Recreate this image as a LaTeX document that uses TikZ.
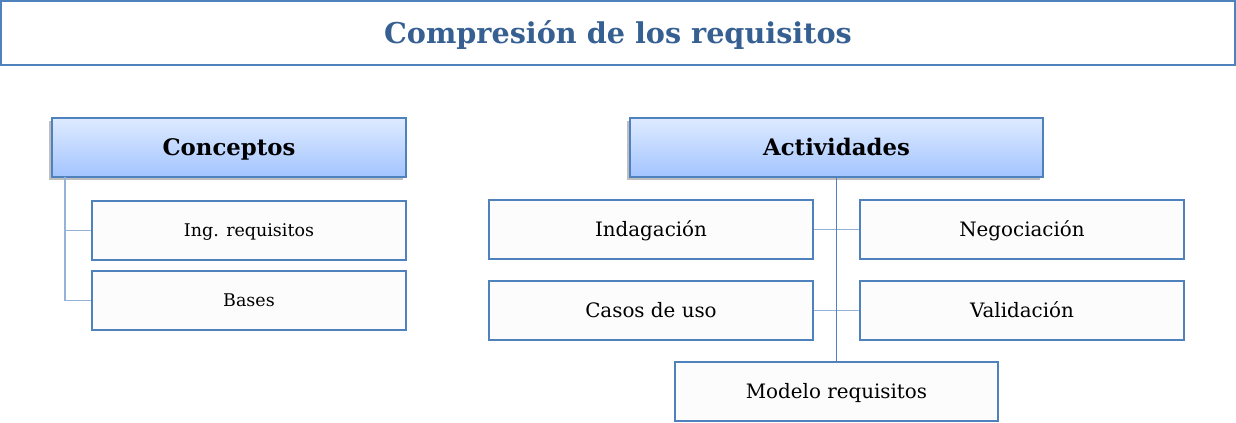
\documentclass[tikz,border=0pt]{standalone}
\usepackage{fontspec}
\setmainfont{DejaVu Serif}
\usetikzlibrary{shadows}
\definecolor{bord}{RGB}{79,129,189}
\definecolor{lite}{RGB}{149,179,215}
\definecolor{ttl}{RGB}{54,96,146}
\definecolor{gtop}{RGB}{222,235,255}
\definecolor{gbot}{RGB}{163,196,255}
\definecolor{boxfill}{RGB}{252,252,252}
\tikzset{
  base/.style={inner sep=0pt, text depth=0pt},
  box/.style={base, draw=bord, line width=1.3pt, fill=boxfill, font=\fontsize{14.9}{17}\selectfont, text height=10.9pt},
  smallbox/.style={box, font=\fontsize{13.1}{15}\selectfont, text height=9.5pt},
  head/.style={base, draw=bord, line width=1.3pt, top color=gtop, bottom color=gbot,
    font=\bfseries\fontsize{17.1}{20}\selectfont, text height=12.5pt,
    drop shadow={shadow xshift=-2pt, shadow yshift=-2pt, opacity=0.25, fill=black}},
  title/.style={base, draw=bord, line width=1.3pt, fill=white, text=ttl,
    font=\bfseries\fontsize{21.5}{24}\selectfont, text height=15.7pt},
  dark/.style={draw=bord, line width=1.3pt},
  light/.style={draw=lite, line width=1.3pt},
}
\newcommand{\bx}[7]{%
  \node[#2, minimum width={(#5-#3)*0.75pt}, minimum height={(#6-#4)*0.75pt}]
    (#1) at ({(#3+#5)/2},{(#4+#6)/2}) {#7};}
\begin{document}
\begin{tikzpicture}[x=0.75pt,y=-0.75pt]
\useasboundingbox (0,0) rectangle (1236,423);
\bx{t}{title}{1}{1}{1235}{65}{Compresión de los requisitos}
\bx{con}{head}{52}{118}{406}{177}{Conceptos}
\bx{ing}{smallbox}{92}{201}{406}{260}{Ing. requisitos}
\bx{bas}{smallbox}{92}{271}{406}{330}{Bases}
\bx{act}{head}{630}{118}{1043}{177}{Actividades}
\bx{ind}{box}{489}{200}{813}{259}{Indagación}
\bx{neg}{box}{860}{200}{1184}{259}{Negociación}
\bx{cas}{box}{489}{281}{813}{340}{Casos de uso}
\bx{val}{box}{860}{281}{1184}{340}{Validación}
\bx{mod}{box}{675}{362}{998}{421}{Modelo requisitos}
\coordinate (cl) at (65,177);
\draw[light] (cl) |- (ing.west);
\draw[light] (cl) |- (bas.west);
\draw[light] (ind.east) -- (neg.west);
\draw[light] (cas.east) -- (val.west);
\draw[dark] (act.south) -- (act.south |- mod.north);
\end{tikzpicture}
\end{document}
